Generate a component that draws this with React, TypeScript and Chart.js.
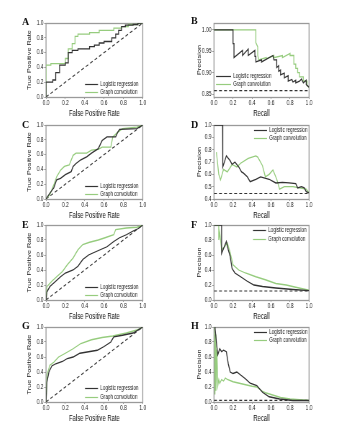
import React, { useEffect, useRef } from 'react';
import { Chart, registerables } from 'chart.js';
Chart.register(...registerables);

type P = [number, number][];

const SERIES = ['Logistic regression', 'Graph convolution'];
const LR_COLOR = '#333333';
const GC_COLOR = '#96cc7e';
const FONT = "'Liberation Sans', Arial, sans-serif";
const SQ = 0.72; // horizontal squeeze of the original figure

const UNIT_TICKS = [0, 0.2, 0.4, 0.6, 0.8, 1.0];
const B_Y_TICKS = [0.85, 0.9, 0.95, 1.0];
const D_Y_TICKS = [0.4, 0.5, 0.6, 0.7, 0.8, 0.9, 1.0];

const B_BASE = 0.858;
const D_BASE = 0.445;
const F_BASE = 0.12;
const H_BASE = 0.022;

// Panel A (ROC)
const A_LR: P = [[0,0],[0,0.2],[0.07,0.2],[0.07,0.23],[0.1,0.23],[0.1,0.33],[0.14,0.33],[0.14,0.43],[0.2,0.43],[0.2,0.46],[0.23,0.46],[0.23,0.6],[0.27,0.6],[0.27,0.63],[0.33,0.63],[0.33,0.65],[0.45,0.65],[0.45,0.68],[0.5,0.68],[0.5,0.7],[0.55,0.7],[0.55,0.73],[0.6,0.73],[0.6,0.75],[0.68,0.75],[0.68,0.8],[0.72,0.8],[0.72,0.85],[0.75,0.85],[0.75,0.9],[0.78,0.9],[0.78,0.95],[0.82,0.95],[0.82,0.97],[0.9,0.97],[0.9,0.98],[0.95,0.98],[0.95,1],[1,1]];
const A_GC: P = [[0,0],[0,0.43],[0.05,0.43],[0.05,0.45],[0.2,0.45],[0.2,0.52],[0.23,0.52],[0.23,0.65],[0.27,0.65],[0.27,0.72],[0.3,0.72],[0.3,0.82],[0.33,0.82],[0.33,0.85],[0.45,0.85],[0.45,0.87],[0.55,0.87],[0.55,0.9],[0.7,0.9],[0.7,0.93],[0.78,0.93],[0.78,0.95],[0.85,0.95],[0.85,0.98],[0.95,0.98],[0.95,1],[1,1]];

// Panel B (PR)
const B_LR: P = [[0,1],[0.2,1],[0.2,0.968],[0.21,0.968],[0.21,0.935],[0.3,0.952],[0.3,0.94],[0.36,0.955],[0.36,0.94],[0.43,0.952],[0.43,0.938],[0.44,0.938],[0.44,0.925],[0.5,0.93],[0.5,0.925],[0.62,0.94],[0.63,0.93],[0.66,0.93],[0.66,0.912],[0.68,0.916],[0.68,0.903],[0.7,0.906],[0.7,0.895],[0.74,0.899],[0.74,0.888],[0.78,0.893],[0.78,0.88],[0.82,0.884],[0.83,0.878],[0.86,0.882],[0.86,0.876],[0.9,0.88],[0.92,0.885],[0.94,0.876],[0.97,0.882],[0.97,0.872],[1,0.866]];
const B_GC: P = [[0,1],[0.44,1],[0.44,0.97],[0.46,0.96],[0.46,0.94],[0.47,0.93],[0.55,0.935],[0.55,0.932],[0.63,0.94],[0.63,0.935],[0.72,0.94],[0.72,0.935],[0.8,0.945],[0.8,0.94],[0.84,0.94],[0.84,0.92],[0.86,0.92],[0.86,0.91],[0.88,0.91],[0.88,0.9],[0.9,0.9],[0.9,0.89],[0.94,0.89],[0.94,0.88],[0.98,0.88],[0.98,0.87],[1,0.865]];

// Panel C (ROC)
const C_LR: P = [[0,0],[0.04,0.08],[0.08,0.15],[0.11,0.26],[0.15,0.28],[0.2,0.33],[0.26,0.37],[0.28,0.44],[0.31,0.48],[0.36,0.53],[0.42,0.57],[0.47,0.62],[0.54,0.68],[0.58,0.79],[0.63,0.84],[0.72,0.84],[0.74,0.9],[0.76,0.94],[0.94,0.95],[1,1]];
const C_GC: P = [[0,0],[0.04,0.06],[0.08,0.19],[0.11,0.3],[0.15,0.39],[0.19,0.44],[0.24,0.46],[0.28,0.59],[0.31,0.62],[0.42,0.62],[0.47,0.66],[0.54,0.67],[0.58,0.7],[0.67,0.7],[0.69,0.84],[0.74,0.9],[0.79,0.95],[0.94,0.97],[1,1]];

// Panel D (PR)
const D_LR: P = [[0,1],[0.09,1],[0.09,0.81],[0.095,0.66],[0.13,0.75],[0.17,0.71],[0.19,0.68],[0.22,0.7],[0.26,0.66],[0.29,0.62],[0.31,0.61],[0.35,0.58],[0.38,0.54],[0.44,0.56],[0.49,0.58],[0.58,0.56],[0.65,0.53],[0.72,0.535],[0.79,0.53],[0.86,0.525],[0.88,0.49],[0.92,0.5],[0.95,0.49],[0.97,0.46],[1,0.45]];
const D_GC: P = [[0.025,0.78],[0.05,0.6],[0.068,0.555],[0.1,0.64],[0.14,0.62],[0.19,0.68],[0.24,0.66],[0.28,0.69],[0.36,0.73],[0.44,0.75],[0.46,0.74],[0.51,0.67],[0.54,0.58],[0.58,0.6],[0.62,0.635],[0.66,0.56],[0.69,0.48],[0.74,0.5],[0.83,0.5],[0.9,0.49],[0.97,0.48],[1,0.45]];

// Panel E (ROC)
const E_LR: P = [[0,0],[0.01,0.11],[0.04,0.18],[0.1,0.25],[0.15,0.31],[0.2,0.36],[0.28,0.4],[0.33,0.45],[0.38,0.54],[0.44,0.6],[0.49,0.63],[0.56,0.67],[0.63,0.71],[0.7,0.78],[0.76,0.83],[0.83,0.87],[0.9,0.92],[0.95,0.95],[1,1]];
const E_GC: P = [[0,0],[0.01,0.18],[0.06,0.25],[0.11,0.31],[0.17,0.38],[0.22,0.47],[0.28,0.56],[0.33,0.67],[0.38,0.74],[0.45,0.77],[0.54,0.8],[0.61,0.83],[0.7,0.87],[0.72,0.94],[0.83,0.96],[0.94,0.97],[1,1]];

// Panel F (PR)
const F_LR: P = [[0,1],[0.08,1],[0.08,0.62],[0.13,0.78],[0.15,0.67],[0.17,0.58],[0.19,0.42],[0.22,0.36],[0.28,0.31],[0.35,0.25],[0.42,0.2],[0.51,0.18],[0.65,0.16],[0.83,0.14],[1,0.125]];
const F_GC: P = [[0,1],[0.05,1],[0.05,0.8],[0.06,0.9],[0.08,0.67],[0.11,0.71],[0.14,0.76],[0.17,0.63],[0.2,0.47],[0.26,0.4],[0.33,0.36],[0.44,0.31],[0.54,0.27],[0.65,0.22],[0.76,0.2],[0.86,0.17],[1,0.13]];

// Panel G (ROC)
const G_LR: P = [[0,0],[0.01,0.27],[0.03,0.4],[0.06,0.48],[0.1,0.51],[0.17,0.54],[0.22,0.58],[0.28,0.6],[0.35,0.65],[0.44,0.67],[0.53,0.69],[0.6,0.74],[0.67,0.8],[0.7,0.87],[0.79,0.89],[0.9,0.92],[1,1]];
const G_GC: P = [[0,0],[0.01,0.36],[0.04,0.49],[0.08,0.53],[0.13,0.6],[0.2,0.65],[0.28,0.71],[0.36,0.78],[0.47,0.83],[0.58,0.86],[0.69,0.88],[0.83,0.92],[0.94,0.96],[1,1]];

// Panel H (PR)
const H_LR: P = [[0.01,1],[0.025,0.8],[0.04,0.63],[0.06,0.71],[0.08,0.67],[0.1,0.69],[0.13,0.67],[0.15,0.51],[0.17,0.4],[0.2,0.38],[0.24,0.4],[0.28,0.36],[0.33,0.31],[0.38,0.25],[0.45,0.22],[0.51,0.13],[0.58,0.07],[0.69,0.04],[0.83,0.02],[1,0.02]];
const H_GC: P = [[0.005,1],[0.01,0.1],[0.015,0.9],[0.02,0.15],[0.03,0.7],[0.04,0.22],[0.05,0.3],[0.06,0.25],[0.08,0.3],[0.1,0.28],[0.12,0.32],[0.14,0.3],[0.2,0.27],[0.3,0.24],[0.4,0.21],[0.45,0.2],[0.5,0.15],[0.55,0.12],[0.6,0.1],[0.7,0.06],[0.8,0.04],[0.9,0.03],[1,0.02]];

type Cfg = {
  letter: string; col: 0 | 1; plotTop: number; plotH: number;
  kind: 'roc' | 'pr'; lr: P; gc: P; yMin: number; yMax: number; yTicks: number[];
  yDec: number; base?: number; lg: { dx: number; dy: number; gap: number; len: number };
};

const PANELS: Cfg[] = [
  { letter: 'A', col: 0, plotTop: 23, plotH: 74, kind: 'roc', lr: A_LR, gc: A_GC, yMin: 0, yMax: 1, yTicks: UNIT_TICKS, yDec: 1, lg: { dx: 39, dy: 61, gap: 8, len: 13 } },
  { letter: 'B', col: 1, plotTop: 23, plotH: 74, kind: 'pr', lr: B_LR, gc: B_GC, yMin: 0.843, yMax: 1.016, yTicks: B_Y_TICKS, yDec: 2, base: B_BASE, lg: { dx: 2, dy: 53, gap: 7.5, len: 15 } },
  { letter: 'C', col: 0, plotTop: 125, plotH: 74, kind: 'roc', lr: C_LR, gc: C_GC, yMin: 0, yMax: 1, yTicks: UNIT_TICKS, yDec: 1, lg: { dx: 39, dy: 61, gap: 8, len: 13 } },
  { letter: 'D', col: 1, plotTop: 125, plotH: 74, kind: 'pr', lr: D_LR, gc: D_GC, yMin: 0.4, yMax: 1, yTicks: D_Y_TICKS, yDec: 1, base: D_BASE, lg: { dx: 40, dy: 5, gap: 8, len: 13 } },
  { letter: 'E', col: 0, plotTop: 225, plotH: 75, kind: 'roc', lr: E_LR, gc: E_GC, yMin: 0, yMax: 1, yTicks: UNIT_TICKS, yDec: 1, lg: { dx: 39, dy: 62, gap: 8, len: 13 } },
  { letter: 'F', col: 1, plotTop: 225, plotH: 75, kind: 'pr', lr: F_LR, gc: F_GC, yMin: 0, yMax: 1, yTicks: UNIT_TICKS, yDec: 1, base: F_BASE, lg: { dx: 39, dy: 5, gap: 8.5, len: 13 } },
  { letter: 'G', col: 0, plotTop: 327, plotH: 75, kind: 'roc', lr: G_LR, gc: G_GC, yMin: 0, yMax: 1, yTicks: UNIT_TICKS, yDec: 1, lg: { dx: 39, dy: 61, gap: 8.5, len: 13 } },
  { letter: 'H', col: 1, plotTop: 327, plotH: 75, kind: 'pr', lr: H_LR, gc: H_GC, yMin: 0, yMax: 1, yTicks: UNIT_TICKS, yDec: 1, base: H_BASE, lg: { dx: 40, dy: 5, gap: 8, len: 13 } },
];

const frame = {
  id: 'frame',
  beforeDatasetsDraw(chart: any) {
    const { ctx, chartArea: a } = chart;
    ctx.save();
    ctx.strokeStyle = '#9a9a9a';
    ctx.lineWidth = 1.3;
    ctx.strokeRect(a.left, Math.round(a.top) + 0.5, a.right - a.left, Math.round(a.bottom - a.top));
    ctx.restore();
  },
};

const insideLegend = {
  id: 'insideLegend',
  afterDatasetsDraw(chart: any, _args: any, opts: any) {
    const { ctx, chartArea } = chart;
    const x0 = chartArea.left + opts.dx / SQ;
    const len = opts.len / SQ;
    let y = chartArea.top + opts.dy;
    ctx.save();
    ctx.font = `6.4px ${FONT}`;
    ctx.textBaseline = 'middle';
    ctx.textAlign = 'left';
    chart.data.datasets.forEach((ds: any) => {
      if (!ds.label) return;
      ctx.strokeStyle = ds.borderColor;
      ctx.lineWidth = 1.2;
      ctx.setLineDash([]);
      ctx.beginPath();
      ctx.moveTo(x0, Math.round(y) + 0.5);
      ctx.lineTo(x0 + len, Math.round(y) + 0.5);
      ctx.stroke();
      ctx.fillStyle = '#222';
      ctx.fillText(ds.label, x0 + len + 3, y + 0.5);
      y += opts.gap;
    });
    ctx.restore();
  },
};

const toXY = (p: P) => p.map(([x, y]) => ({ x, y }));

function Panel({ cfg }: { cfg: Cfg }) {
  const ref = useRef<HTMLCanvasElement>(null);
  const left = cfg.col === 0 ? 20 : 190;
  const pageW = cfg.col === 0 ? 150 : 149;
  const pagePadRight = cfg.col === 0 ? 27 : 30;
  const pageAxisW = cfg.col === 0 ? 26 : 24;
  const width = Math.round(pageW / SQ);
  const padRight = pagePadRight / SQ;
  const yAxisW = pageAxisW / SQ;
  const top = cfg.plotTop - 13;
  const height = 13 + cfg.plotH + 23;

  useEffect(() => {
    const refLine: P = cfg.kind === 'roc' ? [[0, 0], [1, 1]] : [[0, cfg.base as number], [1, cfg.base as number]];
    const chart = new Chart(ref.current as HTMLCanvasElement, {
      type: 'line',
      data: {
        datasets: [
          { label: SERIES[0], data: toXY(cfg.lr), borderColor: LR_COLOR, borderWidth: 1.3, pointRadius: 0, tension: 0, fill: false },
          { label: SERIES[1], data: toXY(cfg.gc), borderColor: GC_COLOR, borderWidth: 1.3, pointRadius: 0, tension: 0, fill: false },
          { label: '', data: toXY(refLine), borderColor: '#333', borderWidth: 1.1, borderDash: [4, 3], pointRadius: 0, fill: false },
        ],
      },
      options: {
        responsive: false,
        animation: false,
        devicePixelRatio: 1,
        layout: { padding: { top: 13, right: padRight, bottom: 0, left: 0 } },
        plugins: {
          legend: { display: false },
          tooltip: { enabled: false },
          insideLegend: cfg.lg,
        } as any,
        scales: {
          x: {
            type: 'linear', min: 0, max: 1,
            afterBuildTicks: (s: any) => { s.ticks = UNIT_TICKS.map((v) => ({ value: v })); },
            afterFit: (s: any) => { s.height = 23; },
            ticks: { font: { family: FONT, size: 6.8 }, color: '#222', padding: 0, maxRotation: 0, autoSkip: false, callback: (v: any) => Number(v).toFixed(1) },
            grid: { display: true, drawOnChartArea: false, drawTicks: true, tickLength: 2, color: '#999' },
            border: { display: false },
            title: { display: true, text: cfg.kind === 'roc' ? 'False Positive Rate' : 'Recall', font: { family: FONT, size: 8.2 }, color: '#111', padding: { top: 0, bottom: 1.5 } },
          },
          y: {
            type: 'linear', min: cfg.yMin, max: cfg.yMax,
            afterBuildTicks: (s: any) => { s.ticks = cfg.yTicks.map((v) => ({ value: v })); },
            afterFit: (s: any) => { s.width = yAxisW; },
            ticks: { font: { family: FONT, size: 6.8 }, color: '#222', padding: 1, autoSkip: false, callback: (v: any) => Number(v).toFixed(cfg.yDec) },
            grid: { display: true, drawOnChartArea: false, drawTicks: true, tickLength: 2.5, color: '#999' },
            border: { display: false },
            title: { display: true, text: cfg.kind === 'roc' ? 'True Positive Rate' : 'Precision', font: { family: FONT, size: 7.3 }, color: '#111', padding: { top: 8.5, bottom: 0 } },
          },
        },
      } as any,
      plugins: [frame, insideLegend],
    });
    return () => chart.destroy();
  }, []);

  return (
    <canvas
      ref={ref}
      width={width}
      height={height}
      style={{ position: 'absolute', left, top, width, height, transform: `scaleX(${SQ})`, transformOrigin: '0 0' }}
    />
  );
}

const LETTER_POS: Record<string, [number, number]> = {
  A: [26, 21.5], B: [195, 21], C: [26, 125], D: [195, 125],
  E: [26, 225], F: [195, 225], G: [26, 326], H: [195, 326],
};

export default function App() {
  return (
    <div style={{ position: 'absolute', left: 0, top: 0, width: 339, height: 433, background: '#fff', overflow: 'hidden' }}>
      {PANELS.map((p) => (
        <Panel key={p.letter} cfg={p} />
      ))}
      {PANELS.map((p) => (
        <div
          key={'l' + p.letter}
          style={{
            position: 'absolute', left: LETTER_POS[p.letter][0] - 4, top: LETTER_POS[p.letter][1] - 5,
            font: "bold 10px 'Liberation Serif', 'DejaVu Serif', serif", lineHeight: '10px', color: '#111',
          }}
        >
          {p.letter}
        </div>
      ))}
    </div>
  );
}
